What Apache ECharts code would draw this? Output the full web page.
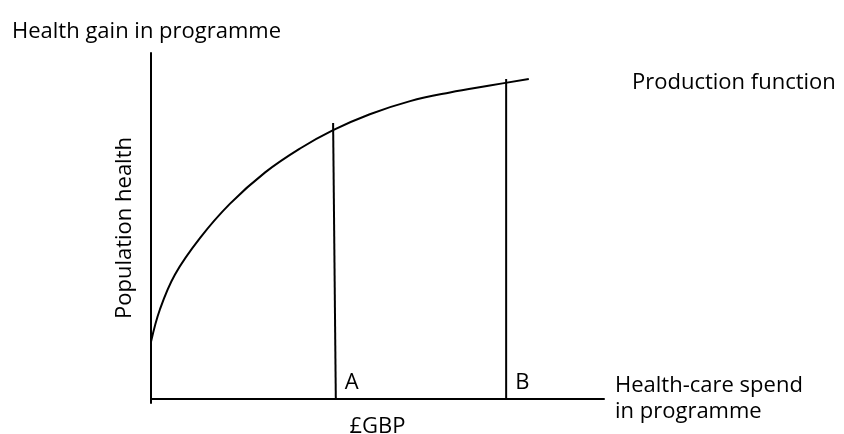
<!DOCTYPE html>
<html>
<head>
<meta charset="utf-8">
<script src="https://cdn.jsdelivr.net/npm/echarts@6/dist/echarts.min.js"></script>
<style>html,body{margin:0;padding:0;background:#fff}#c{width:844px;height:434px}</style>
</head>
<body>
<div id="c"></div>
<script>
// Production function curve: spend (0-100) vs population health (0-100)
const curveX = [0, 2.0, 5.3, 10.8, 17.4, 25.2, 32.9, 40.2, 48.3, 57.2, 66.0, 74.8, 83.4];
const curveY = [16.5, 26.0, 36.0, 46.5, 56.4, 65.5, 72.4, 77.7, 82.3, 86.1, 88.6, 90.6, 92.5];
// Spending levels A and B (vertical lines)
const lineA = [[40.2, 79.8], [40.8, 0]];
const lineB = [[78.4, 92.5], [78.4, 0]];
const pointLabels = ['A', 'B'];
const titleText = 'Health gain in programme';
const yName = 'Population health';
const xName = '£GBP';
const xEndName = 'Health-care spend\nin programme';
const curveName = 'Production function';

const FONT = 'Open Sans';
const FS = 22;
const chart = echarts.init(document.getElementById('c'));
const curveData = curveX.map((x, i) => [x, curveY[i]]);
const lineStyle = { color: '#000', width: 2 };
function vLine(data) {
  return { type: 'line', data: data, symbol: 'none', silent: true, lineStyle: lineStyle };
}
chart.setOption({
  animation: false,
  grid: { left: 151, right: 240, top: 53, bottom: 31, containLabel: false, outerBoundsMode: 'none' },
  title: { text: titleText, left: 7, top: 16, textStyle: { fontSize: FS, fontWeight: 'normal', color: '#000', fontFamily: FONT } },
  xAxis: {
    type: 'value', min: 0, max: 100,
    axisLine: { show: true, onZero: true, lineStyle: { color: '#000', width: 2 } },
    axisTick: { show: false }, axisLabel: { show: false }, splitLine: { show: false },
    name: xName, nameLocation: 'middle', nameGap: 13,
    nameTextStyle: { fontSize: FS, color: '#000', fontFamily: FONT, verticalAlign: 'top' }
  },
  yAxis: {
    type: 'value', min: -1.16, max: 100,
    axisLine: { show: true, lineStyle: { color: '#000', width: 2 } },
    axisTick: { show: false }, axisLabel: { show: false }, splitLine: { show: false },
    name: yName, nameLocation: 'middle', nameGap: 15, nameRotate: 90,
    nameTextStyle: { fontSize: FS, color: '#000', fontFamily: FONT }
  },
  graphic: [
    { type: 'text', left: 632, top: 72, style: { text: curveName, fontSize: FS, fill: '#000', fontFamily: FONT } },
    { type: 'text', left: 615, top: 373, style: { text: xEndName, fontSize: FS, lineHeight: 26, fill: '#000', fontFamily: FONT } }
  ],
  series: [
    { type: 'line', data: curveData, smooth: 0.4, symbol: 'none', silent: true, lineStyle: lineStyle },
    vLine(lineA),
    vLine(lineB),
    {
      type: 'scatter', silent: true, symbolSize: 0,
      itemStyle: { opacity: 1, color: '#000' },
      data: [
        { value: lineA[1], name: pointLabels[0] },
        { value: lineB[1], name: pointLabels[1] }
      ],
      label: {
        show: true, formatter: p => p.name, color: '#000', opacity: 1, fontSize: FS, fontFamily: FONT,
        position: [9, -5], align: 'left', verticalAlign: 'bottom'
      }
    }
  ]
});
</script>
</body>
</html>
